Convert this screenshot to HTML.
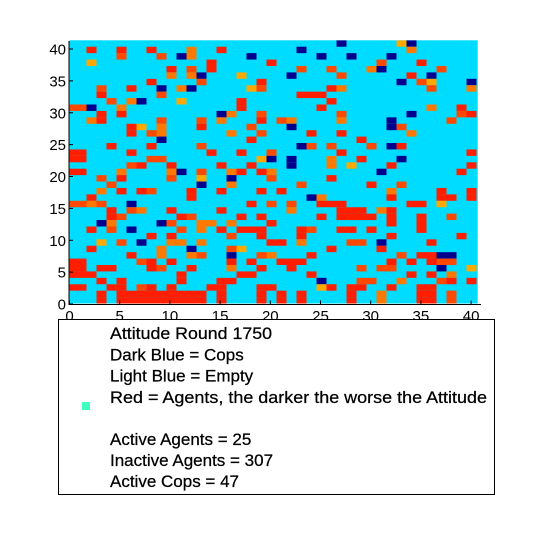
<!DOCTYPE html>
<html><head><meta charset="utf-8"><style>
html,body{margin:0;padding:0;background:#fff;}
svg{display:block;font-family:"Liberation Sans",sans-serif;}
</style></head><body>
<svg id="chart" width="533" height="558" viewBox="0 0 533 558" xmlns="http://www.w3.org/2000/svg">
<defs><clipPath id="plotclip"><rect x="69.5" y="40.3" width="408.2" height="263.2"/></clipPath></defs>
<rect x="69.5" y="40.3" width="408.2" height="263.2" fill="#00dcff"/>
<g id="cells" clip-path="url(#plotclip)"></g>
<g id="axes"></g>
<g>
<rect x="58.5" y="319.5" width="436" height="175" fill="#fff" stroke="#000" stroke-width="1"/>
<rect x="82" y="402" width="8" height="8" fill="#40ffc0"/>
<g font-size="17" fill="#000" stroke="#000" stroke-width="0.25">
<text x="110" y="339" textLength="162" lengthAdjust="spacingAndGlyphs">Attitude Round 1750</text>
<text x="110" y="360.5">Dark Blue = Cops</text>
<text x="110" y="381.5">Light Blue = Empty</text>
<text x="110" y="403" textLength="377" lengthAdjust="spacingAndGlyphs">Red = Agents, the darker the worse the Attitude</text>
<text x="110" y="445">Active Agents = 25</text>
<text x="110" y="466">Inactive Agents = 307</text>
<text x="110" y="487">Active Cops = 47</text>
</g>
</g>
</svg>
<script>
// grid rows listed from top (row index 40) to bottom (row index 0); "col+code"
const cellRows = [
"27b,33y,34b",
"2r,5r,8r,12O,15r,23b,34O",
"5o,9o,11b,12O,18b,25b,28b,32b",
"2y,14r,20r,31o,35r",
"10r,12o,14r,23o,26o,30O,31b,37o",
"10O,12O,13b,17y,22b,27o,34r,36b",
"8r,13o,19r,33b,35o,36y,40b",
"3o,6r,9b,11O,12b,18y,19o,26r,27O,36o,40O",
"3r,9o,23r,24r,25r",
"4o,6O,7b,11y,17r,26r",
"0o,1o,2b,5O,17r,25r,36O,39r",
"3r,5r,15b,16O,19o,27o,34b,39o,40r",
"2O,3r,9o,13o,15O,19r,21o,22O,27O,32b,38o",
"6r,7y,9O,13r,18o,22b,32b,33o",
"6r,8o,9O,16O,19o,24r,27r,34O",
"9b,18r,29r",
"4r,8r,13o,23b,24o,26o,30o,32b,33r",
"0r,1r,6r,14r,17r,20o,27r,40r",
"0r,1r,8o,9o,19y,20b,22b,26O,29r,33b",
"6o,7r,10r,15r,18r,22b,26O,28y,32r,40r",
"0r,1r,5O,10O,11b,13o,16O,17r,19r,20O,31b,39r",
"3o,5r,10o,13y,16b,20o,26r",
"4o,13b,16O,23o,30r,33o",
"3O,5r,7r,8o,12r,15r,19r,21r,32O,37r,40r",
"2r,12r,24b,25O,32r,37r,38r,40r",
"0o,1o,2O,3o,6b,18r,20o,22o,25r,26r,27r,34r,35r,37y",
"4r,6o,7O,10r,15r,22O,27r,28r,29r,31O,32r",
"4r,5o,11r,12o,17r,19r,25r,27r,28r,29r,30r,32r,35r,38o",
"3b,4O,9b,10o,13O,14O,16O,20r,32r,35r",
"2r,4o,6b,11o,13O,15r,17r,18r,19r,23r,24o,27r,28r,30r,35r",
"8r,10r,16o,19r,23r,32r,39r",
"3y,5o,7b,10O,11O,13O,20r,21r,23O,28o,29o,31b,36r",
"2r,9O,12b,16o,17y,26r,31r",
"6r,9O,12O,13o,16b,19o,20O,24r,33o,35r,36r,37b,38b",
"0r,1r,7o,8r,10r,16r,18r,21r,22r,23r,32r,34r,36r,37o,38o",
"0r,1r,3r,4r,8r,9o,12r,16O,19r,22r,29o,31o,32o,37b,40y",
"0r,1r,2r,11r,17r,18r,24r,34r,36r,38O",
"3r,5r,11r,15r,16r,25b,29o,30o,33O,37o,38r,40r",
"0r,1r,4r,5r,7o,8r,10r,14r,15r,19r,20r,25y,26r,28r,29r,32r,35r,36r",
"3r,5r,6r,7r,8r,9r,10r,11r,12r,13r,15r,19r,21r,23r,28r,31O,35r,36r,38o",
"3r,5r,6r,7r,8r,9r,10r,11r,12r,13r,15r,19r,21r,23r,28r,31O,35r,36r,38o"
];
const colorCodes = ["r","o","O","y","b"];
const colorValues = ["#ff1e00","#ff4800","#ff7800","#ffa800","#00008c"];
const xTicks = [0,5,10,15,20,25,30,35,40];
const yTicks = [0,5,10,15,20,25,30,35,40];

const NS = "http://www.w3.org/2000/svg";
const nRows = cellRows.length;
function cellX(col){ return 66.5 + col*10; }
function cellY(rowFromTop){ return 40.3 + rowFromTop*6.42; }
function axisX(v){ return 69.5 + v*10.04; }
function axisY(v){ return 304 - v*6.375; }

const cellsG = document.getElementById('cells');
cellRows.forEach(function(rowStr, t){
  if(!rowStr) return;
  rowStr.split(',').forEach(function(item){
    const col = parseInt(item, 10);
    const code = item.replace(/[0-9]/g,'');
    const r = document.createElementNS(NS,'rect');
    r.setAttribute('x', cellX(col));
    r.setAttribute('y', cellY(t));
    r.setAttribute('width', 10);
    r.setAttribute('height', 6.42);
    r.setAttribute('fill', colorValues[colorCodes.indexOf(code)]);
    
    
    cellsG.appendChild(r);
  });
});

const axesG = document.getElementById('axes');
function line(x1,y1,x2,y2,name){
  const l = document.createElementNS(NS,'line');
  l.setAttribute('x1',x1);l.setAttribute('y1',y1);l.setAttribute('x2',x2);l.setAttribute('y2',y2);
  l.setAttribute('stroke','#000');l.setAttribute('stroke-width','1');
  
  
  axesG.appendChild(l);
}
line(69,304.5,481,304.5,'x-axis-line');
line(69,41,69,305,'y-axis-line');
xTicks.forEach(function(v){
  const x = axisX(v);
  line(x,304.5,x,300.5,'x-tick');
  const tx = document.createElementNS(NS,'text');
  tx.setAttribute('x', x); tx.setAttribute('y', 321);
  tx.setAttribute('text-anchor','middle'); tx.setAttribute('font-size','15');
  tx.textContent = v;
  
  
  axesG.appendChild(tx);
});
yTicks.forEach(function(v){
  const y = axisY(v);
  line(69,y,73,y,'y-tick');
  const tx = document.createElementNS(NS,'text');
  tx.setAttribute('x', 66); tx.setAttribute('y', y+5.5);
  tx.setAttribute('text-anchor','end'); tx.setAttribute('font-size','15');
  tx.textContent = v;
  
  
  axesG.appendChild(tx);
});
</script>
</body></html>
